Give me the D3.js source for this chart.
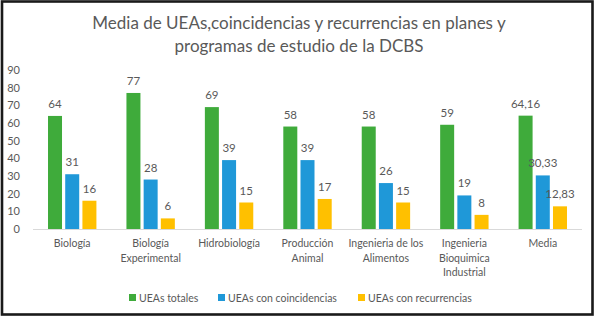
<!DOCTYPE html>
<html>
<head>
<meta charset="utf-8">
<script src="https://cdn.jsdelivr.net/npm/d3@7"></script>
<style>
  body { margin: 0; background: #fff; }
  svg { display: block; font-family: Lato, "Open Sans", sans-serif; }
</style>
</head>
<body>
<div id="chart"></div>
<script>
// data
var categories = [
  ["Biología"],
  ["Biología", "Experimental"],
  ["Hidrobiología"],
  ["Producción", "Animal"],
  ["Ingenieria de los", "Alimentos"],
  ["Ingenieria", "Bioquimica", "Industrial"],
  ["Media"]
];
var seriesNames = ["UEAs totales", "UEAs con coincidencias", "UEAs con recurrencias"];
var totales = [64, 77, 69, 58, 58, 59, 64.16];
var coincidencias = [31, 28, 39, 39, 26, 19, 30.33];
var recurrencias = [16, 6, 15, 17, 15, 8, 12.83];
var yTicks = [0, 10, 20, 30, 40, 50, 60, 70, 80, 90];
var colors = ["#3fab3b", "#1f98d8", "#ffc000"];

var width = 595, height = 318;
var textColor = "#595959";

var svg = d3.select("#chart").append("svg")
  .attr("width", width)
  .attr("height", height);

svg.append("rect")
  .attr("width", width).attr("height", height)
  .attr("fill", "#fff");

// outer frame of the screenshot
svg.append("rect")
  .attr("x", 2).attr("y", 1.5)
  .attr("width", 590.5).attr("height", 313)
  .attr("fill", "none")
  .attr("stroke", "#1a1a1a")
  .attr("stroke-width", 2.6);

// title
var title = svg.append("text")
  .attr("text-anchor", "middle")
  .attr("fill", textColor)
  .style("font-size", "17px");
title.append("tspan").attr("x", 299).attr("y", 29)
  .text("Media de UEAs,coincidencias y recurrencias en planes y");
title.append("tspan").attr("x", 299).attr("y", 52)
  .text("programas de estudio de la DCBS");

var x0 = 33, x1 = 582, yBase = 229, yTop = 70;

var x = d3.scaleBand()
  .domain(d3.range(categories.length))
  .range([x0, x1]);

var y = d3.scaleLinear()
  .domain([0, 90])
  .range([yBase, yTop]);

var barW = 14, barStep = 17.2;
var xs = d3.scaleBand()
  .domain(d3.range(3))
  .range([-barStep * 1.5, barStep * 1.5]);

// y axis labels
svg.append("g").selectAll("text")
  .data(yTicks)
  .enter().append("text")
  .attr("x", 20)
  .attr("y", d => y(d) + 4)
  .attr("text-anchor", "end")
  .attr("fill", textColor)
  .style("font-size", "11px")
  .text(d => d);

// baseline
svg.append("line")
  .attr("x1", x0).attr("x2", x1)
  .attr("y1", yBase + 0.5).attr("y2", yBase + 0.5)
  .attr("stroke", "#d9d9d9");

var fmt = function (v) {
  return Number.isInteger(v) ? String(v) : v.toFixed(2).replace(".", ",");
};

var series = [totales, coincidencias, recurrencias];
var g = svg.append("g");

series.forEach(function (vals, si) {
  var sg = g.append("g");
  sg.selectAll("rect")
    .data(vals)
    .enter().append("rect")
    .attr("x", (d, i) => x(i) + x.bandwidth() / 2 + xs(si) + (barStep - barW) / 2)
    .attr("y", d => y(d))
    .attr("width", barW)
    .attr("height", d => yBase - y(d))
    .attr("fill", colors[si]);

  sg.selectAll("text")
    .data(vals)
    .enter().append("text")
    .attr("x", (d, i) => x(i) + x.bandwidth() / 2 + xs(si) + barStep / 2)
    .attr("y", d => y(d) - 8)
    .attr("text-anchor", "middle")
    .attr("fill", textColor)
    .style("font-size", "11.5px")
    .text(d => fmt(d));
});

// category labels
var cat = svg.append("g").selectAll("text")
  .data(categories)
  .enter().append("text")
  .attr("text-anchor", "middle")
  .attr("fill", textColor)
  .style("font-size", "10.5px");

cat.each(function (lines, i) {
  var t = d3.select(this);
  lines.forEach(function (line, li) {
    t.append("tspan")
      .attr("x", x(i) + x.bandwidth() / 2)
      .attr("y", 247 + li * 14.5)
      .text(line);
  });
});

// legend
var legendX = [129, 218, 358];
var legend = svg.append("g");
seriesNames.forEach(function (name, i) {
  legend.append("rect")
    .attr("x", legendX[i]).attr("y", 294)
    .attr("width", 7).attr("height", 7)
    .attr("fill", colors[i]);
  legend.append("text")
    .attr("x", legendX[i] + 10).attr("y", 301.5)
    .attr("fill", textColor)
    .style("font-size", "10.5px")
    .text(name);
});
</script>
</body>
</html>
